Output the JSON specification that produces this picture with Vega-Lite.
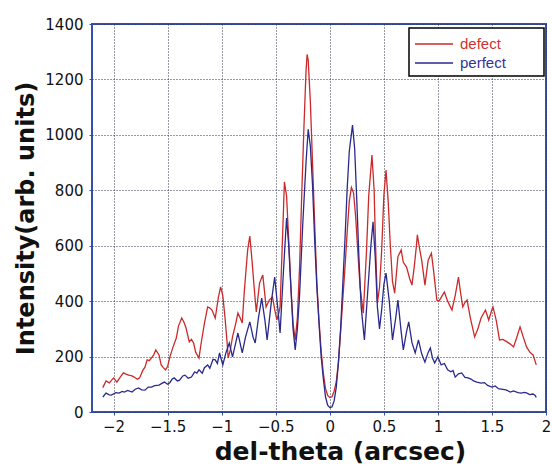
{
  "$schema": "https://vega.github.io/schema/vega-lite/v6.json",
  "width": 454,
  "height": 388,
  "autosize": "none",
  "padding": {"left": 92, "top": 24, "right": 6, "bottom": 54},
  "background": "white",
  "config": {
    "view": {"stroke": "#3350b0", "strokeWidth": 2},
    "axis": {
      "labelFont": "DejaVu Sans",
      "labelFontSize": 15,
      "labelColor": "#111111",
      "titleFont": "DejaVu Sans",
      "titleFontWeight": "bold",
      "titleColor": "#111111",
      "domain": false,
      "gridColor": "#33334d",
      "gridDash": [1, 2],
      "gridWidth": 1,
      "gridOpacity": 1,
      "tickColor": "#3350b0",
      "tickSize": 3
    }
  },
  "data": {
    "values": [
      {"x": -2.10, "y": 88, "s": "defect"},
      {"x": -2.07, "y": 112, "s": "defect"},
      {"x": -2.04, "y": 105, "s": "defect"},
      {"x": -2.00, "y": 123, "s": "defect"},
      {"x": -1.97, "y": 108, "s": "defect"},
      {"x": -1.94, "y": 125, "s": "defect"},
      {"x": -1.91, "y": 141, "s": "defect"},
      {"x": -1.88, "y": 136, "s": "defect"},
      {"x": -1.86, "y": 133, "s": "defect"},
      {"x": -1.83, "y": 130, "s": "defect"},
      {"x": -1.81, "y": 126, "s": "defect"},
      {"x": -1.78, "y": 118, "s": "defect"},
      {"x": -1.76, "y": 123, "s": "defect"},
      {"x": -1.73, "y": 150, "s": "defect"},
      {"x": -1.71, "y": 162, "s": "defect"},
      {"x": -1.69, "y": 188, "s": "defect"},
      {"x": -1.67, "y": 185, "s": "defect"},
      {"x": -1.65, "y": 195, "s": "defect"},
      {"x": -1.63, "y": 205, "s": "defect"},
      {"x": -1.61, "y": 224, "s": "defect"},
      {"x": -1.58, "y": 206, "s": "defect"},
      {"x": -1.56, "y": 170, "s": "defect"},
      {"x": -1.54, "y": 160, "s": "defect"},
      {"x": -1.52, "y": 152, "s": "defect"},
      {"x": -1.50, "y": 165, "s": "defect"},
      {"x": -1.48, "y": 198, "s": "defect"},
      {"x": -1.45, "y": 235, "s": "defect"},
      {"x": -1.42, "y": 267, "s": "defect"},
      {"x": -1.40, "y": 310, "s": "defect"},
      {"x": -1.37, "y": 339, "s": "defect"},
      {"x": -1.35, "y": 325, "s": "defect"},
      {"x": -1.33, "y": 303, "s": "defect"},
      {"x": -1.30, "y": 253, "s": "defect"},
      {"x": -1.28, "y": 262, "s": "defect"},
      {"x": -1.26, "y": 249, "s": "defect"},
      {"x": -1.24, "y": 215, "s": "defect"},
      {"x": -1.21, "y": 195, "s": "defect"},
      {"x": -1.19, "y": 249, "s": "defect"},
      {"x": -1.16, "y": 320, "s": "defect"},
      {"x": -1.13, "y": 379, "s": "defect"},
      {"x": -1.11, "y": 375, "s": "defect"},
      {"x": -1.09, "y": 368, "s": "defect"},
      {"x": -1.06, "y": 339, "s": "defect"},
      {"x": -1.03, "y": 415, "s": "defect"},
      {"x": -1.01, "y": 451, "s": "defect"},
      {"x": -0.99, "y": 420, "s": "defect"},
      {"x": -0.97, "y": 343, "s": "defect"},
      {"x": -0.95, "y": 250, "s": "defect"},
      {"x": -0.94, "y": 195, "s": "defect"},
      {"x": -0.92, "y": 225, "s": "defect"},
      {"x": -0.90, "y": 271, "s": "defect"},
      {"x": -0.87, "y": 320, "s": "defect"},
      {"x": -0.85, "y": 357, "s": "defect"},
      {"x": -0.83, "y": 340, "s": "defect"},
      {"x": -0.81, "y": 321, "s": "defect"},
      {"x": -0.79, "y": 440, "s": "defect"},
      {"x": -0.76, "y": 585, "s": "defect"},
      {"x": -0.74, "y": 635, "s": "defect"},
      {"x": -0.72, "y": 548, "s": "defect"},
      {"x": -0.70, "y": 450, "s": "defect"},
      {"x": -0.68, "y": 361, "s": "defect"},
      {"x": -0.65, "y": 465, "s": "defect"},
      {"x": -0.62, "y": 494, "s": "defect"},
      {"x": -0.60, "y": 420, "s": "defect"},
      {"x": -0.59, "y": 379, "s": "defect"},
      {"x": -0.56, "y": 404, "s": "defect"},
      {"x": -0.53, "y": 415, "s": "defect"},
      {"x": -0.51, "y": 370, "s": "defect"},
      {"x": -0.49, "y": 332, "s": "defect"},
      {"x": -0.47, "y": 360, "s": "defect"},
      {"x": -0.46, "y": 379, "s": "defect"},
      {"x": -0.44, "y": 600, "s": "defect"},
      {"x": -0.42, "y": 830, "s": "defect"},
      {"x": -0.40, "y": 780, "s": "defect"},
      {"x": -0.38, "y": 620, "s": "defect"},
      {"x": -0.36, "y": 450, "s": "defect"},
      {"x": -0.34, "y": 320, "s": "defect"},
      {"x": -0.32, "y": 260, "s": "defect"},
      {"x": -0.30, "y": 340, "s": "defect"},
      {"x": -0.28, "y": 520, "s": "defect"},
      {"x": -0.26, "y": 780, "s": "defect"},
      {"x": -0.24, "y": 1020, "s": "defect"},
      {"x": -0.22, "y": 1230, "s": "defect"},
      {"x": -0.21, "y": 1290, "s": "defect"},
      {"x": -0.20, "y": 1270, "s": "defect"},
      {"x": -0.18, "y": 1120, "s": "defect"},
      {"x": -0.16, "y": 900, "s": "defect"},
      {"x": -0.14, "y": 680, "s": "defect"},
      {"x": -0.12, "y": 470, "s": "defect"},
      {"x": -0.10, "y": 330, "s": "defect"},
      {"x": -0.08, "y": 220, "s": "defect"},
      {"x": -0.06, "y": 140, "s": "defect"},
      {"x": -0.04, "y": 85, "s": "defect"},
      {"x": -0.02, "y": 60, "s": "defect"},
      {"x": 0.00, "y": 52, "s": "defect"},
      {"x": 0.02, "y": 55, "s": "defect"},
      {"x": 0.04, "y": 75, "s": "defect"},
      {"x": 0.06, "y": 110, "s": "defect"},
      {"x": 0.08, "y": 180, "s": "defect"},
      {"x": 0.10, "y": 290, "s": "defect"},
      {"x": 0.12, "y": 404, "s": "defect"},
      {"x": 0.14, "y": 520, "s": "defect"},
      {"x": 0.16, "y": 645, "s": "defect"},
      {"x": 0.18, "y": 760, "s": "defect"},
      {"x": 0.20, "y": 810, "s": "defect"},
      {"x": 0.22, "y": 790, "s": "defect"},
      {"x": 0.24, "y": 700, "s": "defect"},
      {"x": 0.26, "y": 573, "s": "defect"},
      {"x": 0.28, "y": 450, "s": "defect"},
      {"x": 0.31, "y": 357, "s": "defect"},
      {"x": 0.34, "y": 585, "s": "defect"},
      {"x": 0.36, "y": 780, "s": "defect"},
      {"x": 0.39, "y": 927, "s": "defect"},
      {"x": 0.41, "y": 800, "s": "defect"},
      {"x": 0.42, "y": 645, "s": "defect"},
      {"x": 0.44, "y": 393, "s": "defect"},
      {"x": 0.46, "y": 450, "s": "defect"},
      {"x": 0.48, "y": 585, "s": "defect"},
      {"x": 0.50, "y": 780, "s": "defect"},
      {"x": 0.52, "y": 873, "s": "defect"},
      {"x": 0.54, "y": 760, "s": "defect"},
      {"x": 0.56, "y": 600, "s": "defect"},
      {"x": 0.58, "y": 470, "s": "defect"},
      {"x": 0.60, "y": 429, "s": "defect"},
      {"x": 0.63, "y": 560, "s": "defect"},
      {"x": 0.66, "y": 585, "s": "defect"},
      {"x": 0.68, "y": 540, "s": "defect"},
      {"x": 0.71, "y": 523, "s": "defect"},
      {"x": 0.74, "y": 480, "s": "defect"},
      {"x": 0.76, "y": 458, "s": "defect"},
      {"x": 0.78, "y": 520, "s": "defect"},
      {"x": 0.80, "y": 595, "s": "defect"},
      {"x": 0.81, "y": 639, "s": "defect"},
      {"x": 0.83, "y": 590, "s": "defect"},
      {"x": 0.85, "y": 548, "s": "defect"},
      {"x": 0.88, "y": 458, "s": "defect"},
      {"x": 0.91, "y": 548, "s": "defect"},
      {"x": 0.94, "y": 573, "s": "defect"},
      {"x": 0.96, "y": 510, "s": "defect"},
      {"x": 0.99, "y": 404, "s": "defect"},
      {"x": 1.01, "y": 400, "s": "defect"},
      {"x": 1.04, "y": 420, "s": "defect"},
      {"x": 1.06, "y": 433, "s": "defect"},
      {"x": 1.09, "y": 400, "s": "defect"},
      {"x": 1.13, "y": 368, "s": "defect"},
      {"x": 1.16, "y": 420, "s": "defect"},
      {"x": 1.19, "y": 487, "s": "defect"},
      {"x": 1.21, "y": 430, "s": "defect"},
      {"x": 1.23, "y": 379, "s": "defect"},
      {"x": 1.25, "y": 395, "s": "defect"},
      {"x": 1.27, "y": 404, "s": "defect"},
      {"x": 1.30, "y": 340, "s": "defect"},
      {"x": 1.34, "y": 271, "s": "defect"},
      {"x": 1.37, "y": 300, "s": "defect"},
      {"x": 1.40, "y": 340, "s": "defect"},
      {"x": 1.44, "y": 368, "s": "defect"},
      {"x": 1.47, "y": 332, "s": "defect"},
      {"x": 1.50, "y": 370, "s": "defect"},
      {"x": 1.51, "y": 379, "s": "defect"},
      {"x": 1.54, "y": 330, "s": "defect"},
      {"x": 1.57, "y": 260, "s": "defect"},
      {"x": 1.60, "y": 262, "s": "defect"},
      {"x": 1.64, "y": 253, "s": "defect"},
      {"x": 1.67, "y": 245, "s": "defect"},
      {"x": 1.70, "y": 235, "s": "defect"},
      {"x": 1.73, "y": 270, "s": "defect"},
      {"x": 1.76, "y": 307, "s": "defect"},
      {"x": 1.79, "y": 270, "s": "defect"},
      {"x": 1.82, "y": 235, "s": "defect"},
      {"x": 1.85, "y": 216, "s": "defect"},
      {"x": 1.88, "y": 206, "s": "defect"},
      {"x": 1.91, "y": 170, "s": "defect"},
      {"x": -2.10, "y": 54, "s": "perfect"},
      {"x": -2.07, "y": 68, "s": "perfect"},
      {"x": -2.04, "y": 62, "s": "perfect"},
      {"x": -2.02, "y": 61, "s": "perfect"},
      {"x": -1.98, "y": 70, "s": "perfect"},
      {"x": -1.95, "y": 68, "s": "perfect"},
      {"x": -1.92, "y": 74, "s": "perfect"},
      {"x": -1.90, "y": 72, "s": "perfect"},
      {"x": -1.87, "y": 78, "s": "perfect"},
      {"x": -1.83, "y": 72, "s": "perfect"},
      {"x": -1.80, "y": 82, "s": "perfect"},
      {"x": -1.77, "y": 87, "s": "perfect"},
      {"x": -1.74, "y": 80, "s": "perfect"},
      {"x": -1.71, "y": 79, "s": "perfect"},
      {"x": -1.68, "y": 90, "s": "perfect"},
      {"x": -1.65, "y": 90, "s": "perfect"},
      {"x": -1.62, "y": 95, "s": "perfect"},
      {"x": -1.58, "y": 97, "s": "perfect"},
      {"x": -1.55, "y": 104, "s": "perfect"},
      {"x": -1.53, "y": 108, "s": "perfect"},
      {"x": -1.50, "y": 100, "s": "perfect"},
      {"x": -1.48, "y": 105, "s": "perfect"},
      {"x": -1.46, "y": 118, "s": "perfect"},
      {"x": -1.44, "y": 123, "s": "perfect"},
      {"x": -1.41, "y": 112, "s": "perfect"},
      {"x": -1.39, "y": 115, "s": "perfect"},
      {"x": -1.36, "y": 130, "s": "perfect"},
      {"x": -1.34, "y": 133, "s": "perfect"},
      {"x": -1.31, "y": 122, "s": "perfect"},
      {"x": -1.28, "y": 126, "s": "perfect"},
      {"x": -1.25, "y": 145, "s": "perfect"},
      {"x": -1.23, "y": 140, "s": "perfect"},
      {"x": -1.21, "y": 152, "s": "perfect"},
      {"x": -1.18, "y": 140, "s": "perfect"},
      {"x": -1.16, "y": 160, "s": "perfect"},
      {"x": -1.13, "y": 170, "s": "perfect"},
      {"x": -1.11, "y": 158, "s": "perfect"},
      {"x": -1.08, "y": 190, "s": "perfect"},
      {"x": -1.06, "y": 188, "s": "perfect"},
      {"x": -1.04, "y": 175, "s": "perfect"},
      {"x": -1.02, "y": 213, "s": "perfect"},
      {"x": -0.99, "y": 170, "s": "perfect"},
      {"x": -0.96, "y": 215, "s": "perfect"},
      {"x": -0.93, "y": 249, "s": "perfect"},
      {"x": -0.90, "y": 199, "s": "perfect"},
      {"x": -0.87, "y": 250, "s": "perfect"},
      {"x": -0.85, "y": 285, "s": "perfect"},
      {"x": -0.81, "y": 213, "s": "perfect"},
      {"x": -0.78, "y": 270, "s": "perfect"},
      {"x": -0.74, "y": 325, "s": "perfect"},
      {"x": -0.71, "y": 270, "s": "perfect"},
      {"x": -0.69, "y": 249, "s": "perfect"},
      {"x": -0.66, "y": 340, "s": "perfect"},
      {"x": -0.63, "y": 411, "s": "perfect"},
      {"x": -0.60, "y": 330, "s": "perfect"},
      {"x": -0.58, "y": 260, "s": "perfect"},
      {"x": -0.54, "y": 400, "s": "perfect"},
      {"x": -0.51, "y": 487, "s": "perfect"},
      {"x": -0.48, "y": 370, "s": "perfect"},
      {"x": -0.46, "y": 285, "s": "perfect"},
      {"x": -0.43, "y": 500, "s": "perfect"},
      {"x": -0.40, "y": 700, "s": "perfect"},
      {"x": -0.38, "y": 600, "s": "perfect"},
      {"x": -0.36, "y": 450, "s": "perfect"},
      {"x": -0.34, "y": 300, "s": "perfect"},
      {"x": -0.32, "y": 224, "s": "perfect"},
      {"x": -0.30, "y": 300, "s": "perfect"},
      {"x": -0.28, "y": 420, "s": "perfect"},
      {"x": -0.25, "y": 680, "s": "perfect"},
      {"x": -0.22, "y": 900, "s": "perfect"},
      {"x": -0.20, "y": 1020, "s": "perfect"},
      {"x": -0.18, "y": 960, "s": "perfect"},
      {"x": -0.16, "y": 820, "s": "perfect"},
      {"x": -0.14, "y": 620, "s": "perfect"},
      {"x": -0.12, "y": 450, "s": "perfect"},
      {"x": -0.10, "y": 320, "s": "perfect"},
      {"x": -0.08, "y": 200, "s": "perfect"},
      {"x": -0.06, "y": 120, "s": "perfect"},
      {"x": -0.04, "y": 55, "s": "perfect"},
      {"x": -0.02, "y": 25, "s": "perfect"},
      {"x": 0.00, "y": 16, "s": "perfect"},
      {"x": 0.02, "y": 18, "s": "perfect"},
      {"x": 0.04, "y": 40, "s": "perfect"},
      {"x": 0.06, "y": 90, "s": "perfect"},
      {"x": 0.08, "y": 180, "s": "perfect"},
      {"x": 0.10, "y": 300, "s": "perfect"},
      {"x": 0.12, "y": 460, "s": "perfect"},
      {"x": 0.14, "y": 620, "s": "perfect"},
      {"x": 0.16, "y": 800, "s": "perfect"},
      {"x": 0.18, "y": 940, "s": "perfect"},
      {"x": 0.21, "y": 1035, "s": "perfect"},
      {"x": 0.23, "y": 950, "s": "perfect"},
      {"x": 0.25, "y": 760, "s": "perfect"},
      {"x": 0.27, "y": 550, "s": "perfect"},
      {"x": 0.29, "y": 380, "s": "perfect"},
      {"x": 0.32, "y": 260, "s": "perfect"},
      {"x": 0.35, "y": 430, "s": "perfect"},
      {"x": 0.38, "y": 600, "s": "perfect"},
      {"x": 0.40, "y": 686, "s": "perfect"},
      {"x": 0.42, "y": 560, "s": "perfect"},
      {"x": 0.44, "y": 380, "s": "perfect"},
      {"x": 0.46, "y": 300, "s": "perfect"},
      {"x": 0.48, "y": 370, "s": "perfect"},
      {"x": 0.50, "y": 460, "s": "perfect"},
      {"x": 0.52, "y": 501, "s": "perfect"},
      {"x": 0.55, "y": 400, "s": "perfect"},
      {"x": 0.58, "y": 260, "s": "perfect"},
      {"x": 0.61, "y": 340, "s": "perfect"},
      {"x": 0.63, "y": 404, "s": "perfect"},
      {"x": 0.66, "y": 290, "s": "perfect"},
      {"x": 0.68, "y": 224, "s": "perfect"},
      {"x": 0.71, "y": 290, "s": "perfect"},
      {"x": 0.73, "y": 325, "s": "perfect"},
      {"x": 0.76, "y": 250, "s": "perfect"},
      {"x": 0.79, "y": 213, "s": "perfect"},
      {"x": 0.82, "y": 260, "s": "perfect"},
      {"x": 0.85, "y": 210, "s": "perfect"},
      {"x": 0.88, "y": 180, "s": "perfect"},
      {"x": 0.91, "y": 215, "s": "perfect"},
      {"x": 0.93, "y": 231, "s": "perfect"},
      {"x": 0.95, "y": 195, "s": "perfect"},
      {"x": 0.97, "y": 177, "s": "perfect"},
      {"x": 1.00, "y": 199, "s": "perfect"},
      {"x": 1.03, "y": 170, "s": "perfect"},
      {"x": 1.06, "y": 175, "s": "perfect"},
      {"x": 1.09, "y": 152, "s": "perfect"},
      {"x": 1.12, "y": 145, "s": "perfect"},
      {"x": 1.14, "y": 150, "s": "perfect"},
      {"x": 1.16, "y": 126, "s": "perfect"},
      {"x": 1.19, "y": 138, "s": "perfect"},
      {"x": 1.22, "y": 141, "s": "perfect"},
      {"x": 1.25, "y": 125, "s": "perfect"},
      {"x": 1.28, "y": 123, "s": "perfect"},
      {"x": 1.31, "y": 118, "s": "perfect"},
      {"x": 1.33, "y": 112, "s": "perfect"},
      {"x": 1.36, "y": 108, "s": "perfect"},
      {"x": 1.40, "y": 104, "s": "perfect"},
      {"x": 1.43, "y": 106, "s": "perfect"},
      {"x": 1.46, "y": 96, "s": "perfect"},
      {"x": 1.50, "y": 90, "s": "perfect"},
      {"x": 1.53, "y": 94, "s": "perfect"},
      {"x": 1.56, "y": 84, "s": "perfect"},
      {"x": 1.60, "y": 82, "s": "perfect"},
      {"x": 1.63, "y": 80, "s": "perfect"},
      {"x": 1.67, "y": 72, "s": "perfect"},
      {"x": 1.70, "y": 76, "s": "perfect"},
      {"x": 1.74, "y": 70, "s": "perfect"},
      {"x": 1.77, "y": 68, "s": "perfect"},
      {"x": 1.80, "y": 71, "s": "perfect"},
      {"x": 1.82, "y": 69, "s": "perfect"},
      {"x": 1.85, "y": 63, "s": "perfect"},
      {"x": 1.88, "y": 65, "s": "perfect"},
      {"x": 1.90, "y": 60, "s": "perfect"},
      {"x": 1.91, "y": 52, "s": "perfect"}
    ]
  },
  "mark": {"type": "line", "strokeWidth": 1.3, "clip": true},
  "encoding": {
    "x": {
      "field": "x",
      "type": "quantitative",
      "scale": {"domain": [-2.2, 2.0], "nice": false, "zero": false},
      "axis": {
        "values": [-2, -1.5, -1, -0.5, 0, 0.5, 1, 1.5, 2],
        "format": "~g",
        "labelPadding": 4,
        "title": "del-theta (arcsec)",
        "titleFontSize": 25,
        "titlePadding": 5,
        "titleX": 248,
        "labelFlush": false
      }
    },
    "y": {
      "field": "y",
      "type": "quantitative",
      "scale": {"domain": [0, 1400], "nice": false},
      "axis": {
        "values": [0, 200, 400, 600, 800, 1000, 1200, 1400],
        "format": "d",
        "labelPadding": 6,
        "title": "Intensity(arb. units)",
        "titleFontSize": 24,
        "titlePadding": 6
      }
    },
    "color": {
      "field": "s",
      "type": "nominal",
      "scale": {"domain": ["defect", "perfect"], "range": ["#cc2a2a", "#2a2a8c"]},
      "legend": {
        "title": null,
        "orient": "none",
        "legendX": 317,
        "legendY": 4,
        "symbolType": "M-1,0H2.8",
        "symbolSize": 400,
        "symbolStrokeWidth": 1.3,
        "labelFont": "Liberation Sans",
        "labelFontSize": 15,
        "labelOffset": 24,
        "labelExpr": "datum.label + '\u2800\u2800\u2800'",
        "padding": 5,
        "rowPadding": 0,
        "strokeColor": "#000000",
        "fillColor": "#ffffff",
        "cornerRadius": 0,
        "encode": {
          "labels": {"update": {"fill": {"signal": "datum.value === 'defect' ? '#cc3333' : '#333399'"}}},
          "legend": {"update": {"strokeWidth": {"value": 1.5}}}
        }
      }
    }
  }
}
